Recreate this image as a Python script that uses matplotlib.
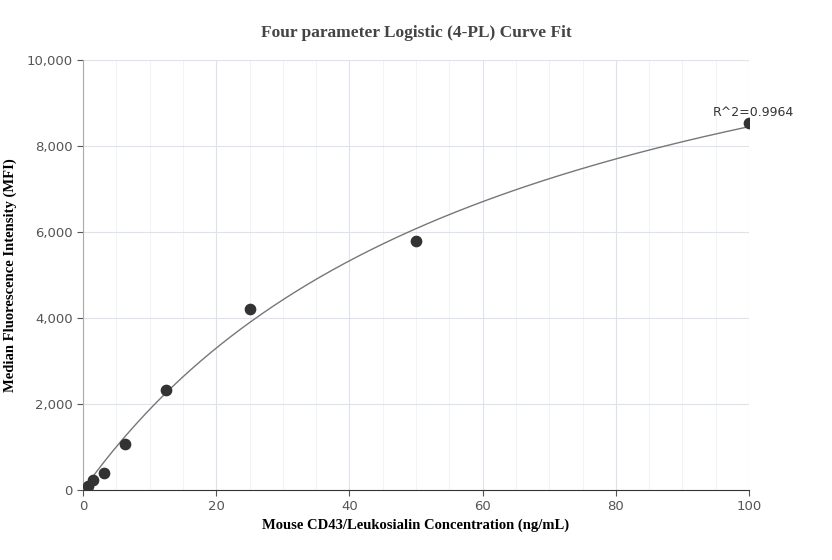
import numpy as np
import matplotlib
matplotlib.use("Agg")
import matplotlib.pyplot as plt
from matplotlib.ticker import MultipleLocator, FuncFormatter

conc = [0.78, 1.56, 3.125, 6.25, 12.5, 25, 50, 100]
mfi = [100, 230, 400, 1060, 2320, 4220, 5790, 8530]
# 4PL parameters (a, b, c, d)
a, b, c, d = 0.0, 1.0, 64.0, 13858.0

fig = plt.figure(figsize=(8.32, 5.6), dpi=100)
ax = fig.add_axes([83/832, 1-490/560, (749-83)/832, (490-60)/560])
xs = np.linspace(0.78, 100, 400)
ys = d + (a - d) / (1 + (xs / c) ** b)
ax.plot(xs, ys, color="#777777", lw=1)
ax.scatter(conc, mfi, s=55, color="#333333", zorder=3)
ax.annotate("R^2=0.9964", (conc[-1], mfi[-1]), xytext=(-26, 3), textcoords="offset points",
            fontsize=9, color="#333333", va="bottom")
ax.set_xlim(0, 100)
ax.set_ylim(0, 10000)
ax.xaxis.set_major_locator(MultipleLocator(20))
ax.xaxis.set_minor_locator(MultipleLocator(5))
ax.yaxis.set_major_locator(MultipleLocator(2000))
ax.yaxis.set_major_formatter(FuncFormatter(lambda v, p: f"{int(v):,}"))
ax.grid(which="major", color="#dde3ee", lw=0.8)
ax.grid(which="minor", axis="x", color="#eef1f6", lw=0.6)
ax.set_axisbelow(True)
for s in ["top", "right"]:
    ax.spines[s].set_visible(False)
ax.spines["left"].set_color("#aaaaaa")
ax.spines["bottom"].set_color("#333333")
ax.tick_params(which="both", colors="#555555", labelsize=9.5, length=4)
ax.tick_params(which="minor", length=0)
ax.set_xlabel("Mouse CD43/Leukosialin Concentration (ng/mL)", fontfamily="Liberation Serif",
              fontweight="bold", fontsize=10.5)
fig.text(10/832, 1-275/560, "Median Fluorescence Intensity (MFI)", rotation=90, ha="center",
         va="center", fontfamily="Liberation Serif", fontweight="bold", fontsize=10.5)
fig.text(416/832, 1-33/560, "Four parameter Logistic (4-PL) Curve Fit", ha="center", va="center",
         fontfamily="Liberation Serif", fontweight="bold", fontsize=12.5, color="#444444")
fig.savefig("out.png", dpi=100)
